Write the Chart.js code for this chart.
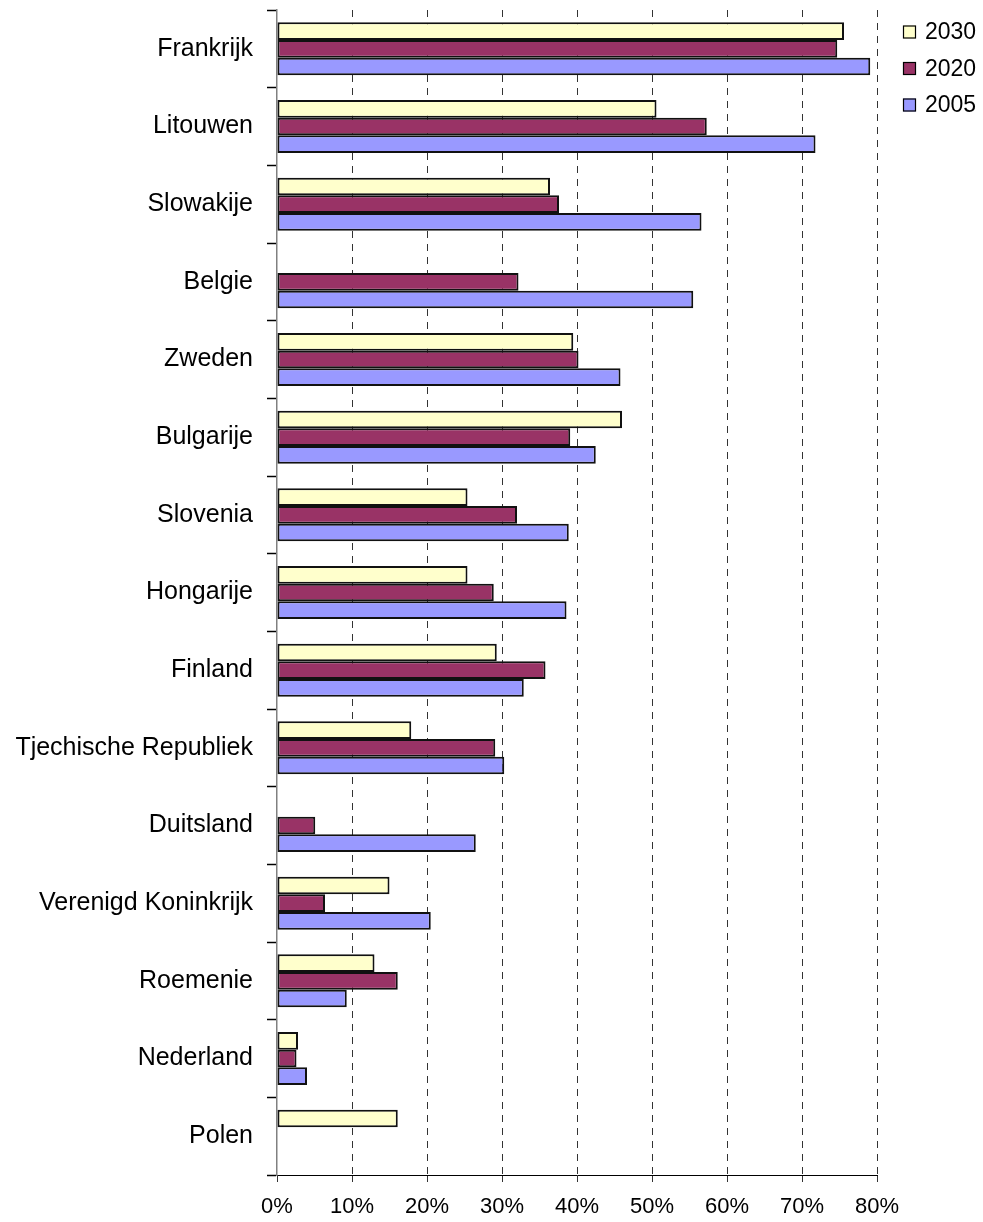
<!DOCTYPE html>
<html>
<head>
<meta charset="utf-8">
<script src="https://cdn.jsdelivr.net/npm/chart.js@4"></script>
<style>
  body { margin: 0; background: #fff; }
  #wrap { width: 983px; height: 1222px; }
</style>
</head>
<body>
<div id="wrap"><canvas id="myChart"></canvas></div>
<script>
var countries = ['Frankrijk', 'Litouwen', 'Slowakije', 'Belgie', 'Zweden', 'Bulgarije', 'Slovenia', 'Hongarije',
  'Finland', 'Tjechische Republiek', 'Duitsland', 'Verenigd Koninkrijk', 'Roemenie', 'Nederland', 'Polen'];
var years = ['2030', '2020', '2005'];
var share2030 = [75.6, 50.6, 36.4, null, 39.5, 46.0, 25.4, 25.4, 29.3, 17.9, null, 15.0, 13.0, 2.8, 16.1];
var share2020 = [74.7, 57.3, 37.6, 32.2, 40.2, 39.1, 32.0, 28.9, 35.8, 29.1, 5.1, 6.4, 16.1, 2.6, null];
var share2005 = [79.1, 71.8, 56.6, 55.5, 45.8, 42.5, 38.9, 38.6, 32.9, 30.3, 26.5, 20.5, 9.3, 4.0, null];
var xTicks = [0, 10, 20, 30, 40, 50, 60, 70, 80];

var colors = ['#FFFFCC', '#993366', '#9999FF'];
var fontFamily = '"Liberation Sans", Arial, sans-serif';

function makeSet(label, data, color) {
  return {
    label: label,
    data: data,
    backgroundColor: color,
    borderColor: '#111',
    borderWidth: 2,
    borderSkipped: false,
    categoryPercentage: 0.683,
    barPercentage: 1
  };
}

// legend drawn by hand so the plot area keeps its place
var sideLegend = {
  id: 'sideLegend',
  afterDraw: function (chart) {
    var c = chart.ctx;
    c.save();
    c.font = '23px ' + fontFamily;
    c.textBaseline = 'middle';
    chart.data.datasets.forEach(function (ds, i) {
      var y = 32 + i * 36.5;
      c.fillStyle = ds.backgroundColor;
      c.fillRect(903, y - 6.5, 13, 13);
      c.strokeStyle = '#000';
      c.lineWidth = 1.2;
      c.strokeRect(903.5, y - 6, 12, 12);
      c.fillStyle = '#000';
      c.fillText(ds.label, 925, y + 1);
    });
    c.restore();
  }
};

var ctx = document.getElementById('myChart').getContext('2d');
var myChart = new Chart(ctx, {
  type: 'bar',
  data: {
    labels: countries,
    datasets: [
      makeSet(years[0], share2030, colors[0]),
      makeSet(years[1], share2020, colors[1]),
      makeSet(years[2], share2005, colors[2])
    ]
  },
  options: {
    indexAxis: 'y',
    responsive: true,
    maintainAspectRatio: false,
    animation: false,
    layout: { padding: { top: 10, right: 106, left: 0, bottom: 0 } },
    scales: {
      x: {
        min: 0,
        max: 80,
        afterBuildTicks: function (s) { s.ticks = xTicks.map(function (v) { return { value: v }; }); },
        afterFit: function (s) { s.height = 47; s.paddingLeft = 0; s.paddingRight = 0; },
        grid: {
          color: function (c) { return c.index === 0 ? 'rgba(0,0,0,0)' : '#333'; },
          tickColor: '#333',
          lineWidth: 1,
          tickLength: 7
        },
        border: { display: true, color: '#000', width: 1, dash: [7, 6] },
        ticks: {
          color: '#000',
          padding: 12,
          font: { family: fontFamily, size: 22 },
          callback: function (v) { return v + '%'; }
        }
      },
      y: {
        afterFit: function (s) { s.width = 277; s.paddingTop = 0; s.paddingBottom = 0; },
        grid: {
          drawOnChartArea: false,
          drawTicks: true,
          tickLength: 10,
          tickColor: '#000',
          tickWidth: 1.5,
          offset: true
        },
        border: { display: true, color: '#808080', width: 1.5 },
        ticks: {
          color: '#000',
          padding: 14,
          autoSkip: false,
          font: { family: fontFamily, size: 25 }
        }
      }
    },
    plugins: {
      legend: { display: false },
      tooltip: { enabled: false }
    }
  },
  plugins: [sideLegend]
});
</script>
</body>
</html>
